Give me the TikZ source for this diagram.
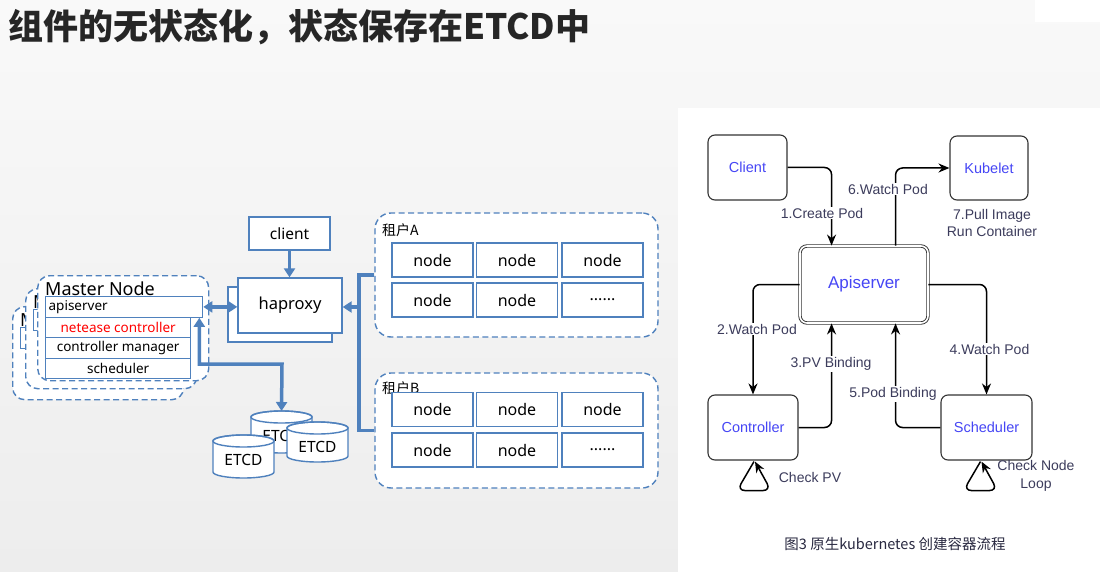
\documentclass[tikz,border=0pt]{standalone}
\usepackage{fontspec}
\setmainfont{Noto Sans}
\newfontfamily\cjk{Noto Sans CJK SC}
\newfontfamily\arial{Liberation Sans}
\usetikzlibrary{arrows.meta,calc}
\definecolor{msblue}{RGB}{79,129,189}
\definecolor{kblue}{RGB}{70,70,245}
\definecolor{klabel}{RGB}{60,60,92}
\definecolor{titlecol}{RGB}{38,38,38}
% back copies of the master node card: only the parts that show
\newcommand\mback[4]{% dx, dy, box height, prefix
\begin{scope}[shift={(#1,#2)}]
  \node[dashbox, anchor=north west, minimum width=171pt, minimum height=#3pt] (#4box) at (37,275) {};
  \node[anchor=base west, inner sep=0pt, font=\fontsize{18}{20}\selectfont] (#4title) at (45,295.5) {M};
  \node[compbox, anchor=north west, minimum width=157pt] (#4api) at (45,296) {};
\end{scope}}
% cylinder: center x, top-ellipse y, bottom-ellipse y, name, text y
\newcommand\etcdcyl[5]{%
  \path[fill=white, draw=msblue, line width=1.4pt] ({#1-30.5},#2) -- ({#1-30.5},#3)
     arc[start angle=180, end angle=0, x radius=30.5, y radius=6] -- ({#1+30.5},#2)
     arc[start angle=0, end angle=-180, x radius=30.5, y radius=6] -- cycle;
  \draw[msblue, line width=1.4pt] (#1,#2) ellipse[x radius=30.5, y radius=6];
  \node[inner sep=0pt, font=\fontsize{15.5}{17}\selectfont] (#4) at (#1,#5) {ETCD};}
\begin{document}
\begin{tikzpicture}[x=1pt,y=-1pt,
  dashbox/.style={draw=msblue, line width=1.4pt, dash pattern=on 6pt off 3.5pt, rounded corners=12pt, fill=white},
  bluebox/.style={draw=msblue, line width=1.3pt, fill=white, inner sep=0pt},
  compbox/.style={bluebox, minimum height=20.5pt, inner xsep=3pt, font=\fontsize{13.5}{15}\selectfont},
  nodebox/.style={bluebox, minimum width=81pt, minimum height=34pt, font=\fontsize{16}{18}\selectfont},
  bline/.style={draw=msblue, line width=3.5pt},
  btip/.style={-{Triangle[length=9pt,width=11pt]}},
  bboth/.style={{Triangle[length=9pt,width=11pt]}-{Triangle[length=9pt,width=11pt]}},
  kbox/.style={draw=black!80, line width=1.1pt, rounded corners=7pt, fill=white, text=kblue, font=\arial\fontsize{14.5}{16}\selectfont},
  kedge/.style={line width=1.5pt, draw=black, rounded corners=7pt, -{Stealth[length=11pt,width=9pt]}},
  klab/.style={fill=white, inner sep=1pt, text=klabel, font=\arial\fontsize{14}{16}\selectfont},
]
\useasboundingbox (0,0) rectangle (1100,572);
% background
\shade[top color={rgb,255:red,249;green,249;blue,249}, bottom color={rgb,255:red,237;green,237;blue,237}] (0,0) rectangle (1100,572);
\fill[white] (678,108) rectangle (1100,572);
\fill[white] (1035,0) rectangle (1100,22);
% title
\node[anchor=west, inner sep=0pt, text=titlecol, font=\cjk\bfseries\fontsize{35}{38}\selectfont] (title) at (8,27) {组件的无状态化，状态保存在ETCD中};

% ===== master node stacks =====
\mback{-25}{31}{93}{mc}
\mback{-12}{13}{100}{mb}
\node[dashbox, anchor=north west, minimum width=171pt, minimum height=105pt] (mabox) at (37,275) {};
\node[anchor=base west, inner sep=0pt, font=\fontsize{18}{20}\selectfont] (matitle) at (45,295.5) {Master Node};
\node[compbox, anchor=north west, text width=151pt, align=left] (maapi) at (45,296) {apiserver};
\node[compbox, anchor=north west, minimum width=145pt, text=red] (ne) at (45,316.5) {netease controller};
\node[compbox, anchor=north west, minimum width=145pt] (cm) at (45,337) {controller manager};
\node[compbox, anchor=north west, minimum width=145pt] (sc) at (45,357.5) {scheduler};

% ===== haproxy and client =====
\node[bluebox, minimum width=104pt, minimum height=55pt] (hapback) at (280,314.5) {};
\node[bluebox, minimum width=104pt, minimum height=55pt, font=\fontsize{16.5}{18}\selectfont] (hap) at (290,305.5) {haproxy};
\node[bluebox, minimum width=81pt, minimum height=33pt, font=\fontsize{15.5}{17}\selectfont] (client) at (289.5,233.5) {client};

% ===== tenants =====
\node[dashbox, rounded corners=16pt, minimum width=283pt, minimum height=124pt] (tA) at (516.5,275) {};
\node[anchor=north west, inner sep=0pt, font=\cjk\fontsize{14}{16}\selectfont] (tAlab) at (382,223) {租户A};
\node[nodebox] (a1) at (432.5,260) {node};
\node[nodebox] (a2) at (517,260) {node};
\node[nodebox] (a3) at (602.5,260) {node};
\node[nodebox] (a4) at (432.5,300) {node};
\node[nodebox] (a5) at (517,300) {node};
\node[nodebox] (a6) at (602.5,300) {......};

\node[dashbox, rounded corners=16pt, minimum width=283pt, minimum height=115pt] (tB) at (516.5,430.5) {};
\node[anchor=north west, inner sep=0pt, font=\cjk\fontsize{14}{16}\selectfont] (tBlab) at (382,381) {租户B};
\node[nodebox] (b1) at (432.5,409.5) {node};
\node[nodebox] (b2) at (517,409.5) {node};
\node[nodebox] (b3) at (602.5,409.5) {node};
\node[nodebox] (b4) at (432.5,450) {node};
\node[nodebox] (b5) at (517,450) {node};
\node[nodebox] (b6) at (602.5,450) {......};

% ===== ETCD =====
\etcdcyl{281.5}{417}{447}{e2}{436}
\coordinate (e2top) at (281.5,411);
\etcdcyl{317.5}{428}{456}{e3}{447}
\etcdcyl{243.5}{441}{472}{e1}{460}

% ===== left connectors =====
\coordinate (trunk) at (359,307);
\coordinate (ejoin) at (282,364);
\draw[bline, bboth] (maapi.east) -- (maapi.east -| hap.west);
\draw[bline, btip] (client.south) -- (client.south |- hap.north);
\draw[bline] (tA.west) -| (trunk) |- (tB.west);
\draw[bline, btip] (trunk) -- (trunk -| hap.east);
\draw[bline, bboth] ($(maapi.south east)+(-4,0)$) |- (ejoin) -- (e2top);

% ===== kubernetes flow =====
\node[kbox, minimum width=79pt, minimum height=65pt] (kclient) at (747.5,167.5) {Client};
\node[kbox, minimum width=78pt, minimum height=64pt] (kubelet) at (989,168) {Kubelet};
\node[kbox, double=white, double distance=1.6pt, line width=0.9pt, minimum width=128pt, minimum height=77pt, font=\arial\fontsize{17}{19}\selectfont] (kapi) at (864,284.5) {Apiserver};
\node[kbox, minimum width=90pt, minimum height=65pt] (kctrl) at (753,427.5) {Controller};
\node[kbox, minimum width=91pt, minimum height=65pt] (ksch) at (986.5,427.5) {Scheduler};

\draw[kedge] (kclient.east) -| ($(kapi.north west)+(32,0)$);
\draw[kedge] ($(kapi.north west)+(96,0)$) |- (kubelet.west);
\draw[kedge] (kapi.west) -| (kctrl.north);
\draw[kedge] (kctrl.east) -| ($(kapi.south west)+(32,0)$);
\draw[kedge] (kapi.east) -| (ksch.north);
\draw[kedge] (ksch.west) -| ($(kapi.south west)+(96,0)$);
\draw[kedge, rounded corners=8pt] ($(kctrl.south)+(1,1)$) -- ++(-17,29) -- ++(34,0) -- ($(kctrl.south)+(2,1)$);
\draw[kedge, rounded corners=8pt] ($(ksch.south)+(-6,1)$) -- ++(-17,29) -- ++(34,0) -- ($(ksch.south)+(-5,1)$);

\node[klab] (l1) at (822,213) {1.Create Pod};
\node[klab] (l6) at (888,189) {6.Watch Pod};
\node[klab, align=center, font=\arial\fontsize{14}{17}\selectfont] (l7) at (992,222.5) {7.Pull Image\\Run Container};
\node[klab] (l2) at (757,329) {2.Watch Pod};
\node[klab] (l3) at (831,364) {3.PV Binding};
\node[klab] (l4) at (989.5,349) {4.Watch Pod};
\node[klab] (l5) at (893,394) {5.Pod Binding};
\node[klab, fill=none] (lpv) at (810,477) {Check PV};
\node[klab, fill=none, align=center, font=\arial\fontsize{14}{17.5}\selectfont] (lnode) at (1036,476) {Check Node\\Loop};

\node[inner sep=0pt, text={rgb,255:red,40;green,40;blue,64}, font=\cjk\fontsize{14.5}{16}\selectfont] (cap) at (895,544) {图3 原生kubernetes 创建容器流程};
\end{tikzpicture}
\end{document}
